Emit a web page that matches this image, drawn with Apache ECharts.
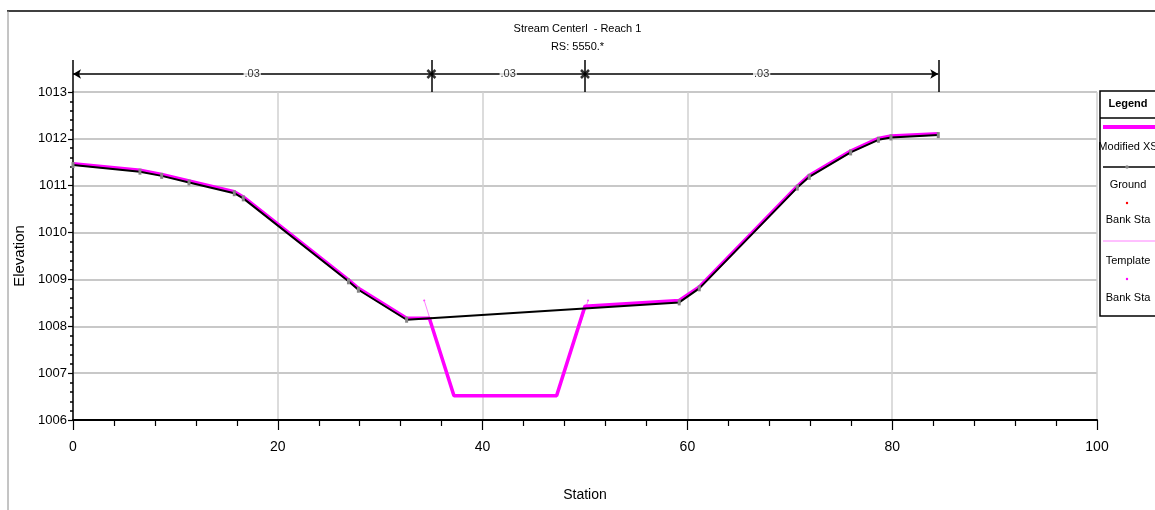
<!DOCTYPE html>
<html>
<head>
<meta charset="utf-8">
<script src="https://cdn.jsdelivr.net/npm/echarts@6/dist/echarts.min.js"></script>
<style>
html,body{margin:0;padding:0;background:#fff;}
#chart{width:1155px;height:510px;}
</style>
</head>
<body>
<div id="chart"></div>
<script>
// ---- data ----
const titleText = 'Stream Centerl  - Reach 1';
const subText = 'RS: 5550.*';
const xAxisName = 'Station';
const yAxisName = 'Elevation';

const groundX = [0, 6.54, 8.66, 11.33, 15.75, 16.63, 26.9, 27.87, 32.58, 59.2, 61.16, 70.73, 71.9, 75.94, 78.65, 79.88, 84.5];
const groundY = [1011.44, 1011.30, 1011.21, 1011.07, 1010.84, 1010.73, 1008.96, 1008.78, 1008.14, 1008.51, 1008.81, 1010.96, 1011.19, 1011.71, 1011.98, 1012.03, 1012.08];

const modX = [0, 6.54, 8.66, 11.33, 15.75, 16.63, 26.9, 27.87, 32.58, 34.8, 37.2, 47.23, 50.0, 59.2, 61.16, 70.73, 71.9, 75.94, 78.65, 79.88, 84.5];
const modY = [1011.47, 1011.33, 1011.24, 1011.10, 1010.87, 1010.76, 1008.99, 1008.81, 1008.17, 1008.17, 1006.52, 1006.52, 1008.43, 1008.55, 1008.84, 1010.99, 1011.22, 1011.74, 1012.01, 1012.06, 1012.11];

const templateX = [34.3, 37.2, 47.23, 50.3];
const templateY = [1008.55, 1006.52, 1006.52, 1008.55];

const bankX = [35, 50];
const bankY = [1008.17, 1008.40];
const templateBankX = [34.3, 50.3];
const templateBankY = [1008.55, 1008.55];

const nBreaks = [0, 35, 50, 84.5];
const nLabels = ['.03', '.03', '.03'];

const legendNames = ['Modified XS', 'Ground', 'Bank Sta', 'Template', 'Bank Sta'];

// ---- helpers ----
const zip = (xs, ys) => xs.map((x, i) => [x, ys[i]]);
const F = '"Liberation Sans", Arial, sans-serif';
const BRK_Y = 0.5625; // bracket line level inside the top strip

const chart = echarts.init(document.getElementById('chart'), null, {renderer: 'canvas'});

const mids = nLabels.map((t, i) => [(nBreaks[i] + nBreaks[i + 1]) / 2, BRK_Y]);
const innerBreaks = nBreaks.slice(1, -1).map(x => [x, BRK_Y]);

const legendX = 1128;
function legendText(t, y, bold) {
  return {type: 'text', x: legendX, y: y, style: {text: t, fill: '#000', font: (bold ? 'bold ' : '') + '11px ' + F, textAlign: 'center', textVerticalAlign: 'middle'}, z: 20};
}

const option = {
  animation: false,
  backgroundColor: '#fff',
  title: {
    text: titleText, subtext: subText, left: 'center', top: 18, itemGap: 7,
    textStyle: {fontFamily: F, fontSize: 11, fontWeight: 'normal', color: '#000'},
    subtextStyle: {fontFamily: F, fontSize: 11, color: '#000'}
  },
  grid: [
    {left: 73, right: 58, top: 92, bottom: 90},
    {left: 73, right: 58, top: 60, height: 32}
  ],
  xAxis: [{
    type: 'value', gridIndex: 0, min: 0, max: 100, interval: 20,
    name: xAxisName, nameLocation: 'middle', nameGap: 68,
    nameTextStyle: {fontFamily: F, fontSize: 14, color: '#000'},
    axisLine: {show: true, onZero: false, lineStyle: {color: '#000', width: 2}},
    axisTick: {show: true, length: 10, lineStyle: {color: '#000', width: 1.2}},
    minorTick: {show: true, splitNumber: 5, length: 6, lineStyle: {color: '#000', width: 1.2}},
    splitLine: {show: true, lineStyle: {color: '#d0d0d0', width: 1.5}},
    axisLabel: {margin: 20, fontFamily: F, fontSize: 14, color: '#000'}
  }, {
    type: 'value', gridIndex: 1, min: 0, max: 100, show: false
  }],
  yAxis: [{
    type: 'value', gridIndex: 0, min: 1006, max: 1013, interval: 1,
    name: yAxisName, nameLocation: 'middle', nameGap: 42,
    nameTextStyle: {fontFamily: F, fontSize: 15, color: '#000'},
    axisLine: {show: true, lineStyle: {color: '#000', width: 1.5}},
    axisTick: {show: true, length: 5, lineStyle: {color: '#000', width: 1.2}},
    minorTick: {show: true, splitNumber: 5, length: 3, lineStyle: {color: '#000', width: 1.5}},
    splitLine: {show: true, lineStyle: {color: '#c8c8c8', width: 2}},
    axisLabel: {margin: 6, fontFamily: F, fontSize: 13, color: '#000', formatter: v => String(v)}
  }, {
    type: 'value', gridIndex: 1, min: 0, max: 1, show: false
  }],
  series: [
    {
      name: 'Bank Sta', type: 'scatter', data: zip(bankX, bankY),
      symbol: 'circle', symbolSize: 2, itemStyle: {color: '#ff0000'}, z: 1
    },
    {
      name: 'Template Bank Sta', type: 'scatter', data: zip(templateBankX, templateBankY),
      symbol: 'circle', symbolSize: 2, itemStyle: {color: '#ff00ff'}, z: 1
    },
    {
      name: 'Template', type: 'line', data: zip(templateX, templateY),
      showSymbol: false, lineStyle: {color: '#ff80ff', width: 1}, z: 2
    },
    {
      name: 'Modified XS', type: 'line', data: zip(modX, modY),
      showSymbol: false, lineStyle: {color: '#ff00ff', width: 3.5}, z: 3
    },
    {
      name: 'Ground', type: 'line', data: zip(groundX, groundY),
      symbol: 'rect', symbolSize: [3, 6], showSymbol: true,
      itemStyle: {color: '#858585'},
      lineStyle: {color: '#000', width: 2}, z: 4
    },
    // n-value bracket strip above the plot
    {
      type: 'line', xAxisIndex: 1, yAxisIndex: 1, data: [], silent: true,
      markLine: {
        silent: true, animation: false,
        lineStyle: {color: '#000', width: 1.5, type: 'solid'},
        label: {show: false},
        data: [
          [{coord: [nBreaks[0], BRK_Y], symbol: 'arrow', symbolSize: [7, 8]},
           {coord: [nBreaks[nBreaks.length - 1], BRK_Y], symbol: 'arrow', symbolSize: [7, 8]}]
        ].concat(nBreaks.map(x => [
          {coord: [x, 0], symbol: 'none'},
          {coord: [x, 1], symbol: 'none'}
        ]))
      },
      z: 5
    },
    {
      type: 'scatter', xAxisIndex: 1, yAxisIndex: 1, data: innerBreaks, silent: true,
      symbol: 'path://M0,0L10,10M10,0L0,10', symbolSize: 8,
      itemStyle: {color: 'none', borderColor: '#000', borderWidth: 2.5}, z: 6
    },
    {
      type: 'scatter', xAxisIndex: 1, yAxisIndex: 1, data: mids, silent: true,
      symbolSize: 0,
      label: {
        show: true, position: 'inside', formatter: p => nLabels[p.dataIndex],
        fontFamily: F, fontSize: 11, color: '#000',
        backgroundColor: '#fff', padding: [1, 1]
      }, z: 6
    }
  ],
  graphic: [
    {type: 'line', shape: {x1: 7, y1: 11, x2: 1155, y2: 11}, style: {stroke: '#000', lineWidth: 1.5}},
    {type: 'line', shape: {x1: 8, y1: 11, x2: 8, y2: 510}, style: {stroke: '#8a8a8a', lineWidth: 1}},
    {type: 'rect', shape: {x: 1100, y: 91, width: 62, height: 225}, style: {fill: '#fff', stroke: '#000', lineWidth: 1.5}, z: 10},
    {type: 'line', shape: {x1: 1100, y1: 118, x2: 1162, y2: 118}, style: {stroke: '#000', lineWidth: 1.5}, z: 11},
    legendText('Legend', 104, true),
    {type: 'line', shape: {x1: 1103, y1: 127, x2: 1157, y2: 127}, style: {stroke: '#ff00ff', lineWidth: 4}, z: 11},
    legendText(legendNames[0], 147),
    {type: 'line', shape: {x1: 1103, y1: 167, x2: 1157, y2: 167}, style: {stroke: '#000', lineWidth: 1.5}, z: 11},
    {type: 'circle', shape: {cx: 1127, cy: 167, r: 1.8}, style: {fill: '#858585'}, z: 12},
    legendText(legendNames[1], 185),
    {type: 'circle', shape: {cx: 1127, cy: 203, r: 1.2}, style: {fill: '#ff0000'}, z: 12},
    legendText(legendNames[2], 220),
    {type: 'line', shape: {x1: 1103, y1: 241, x2: 1157, y2: 241}, style: {stroke: '#ff80ff', lineWidth: 1}, z: 11},
    legendText(legendNames[3], 261),
    {type: 'circle', shape: {cx: 1127, cy: 279, r: 1.2}, style: {fill: '#ff00ff'}, z: 12},
    legendText(legendNames[4], 298)
  ]
};
chart.setOption(option);
</script>
</body>
</html>
